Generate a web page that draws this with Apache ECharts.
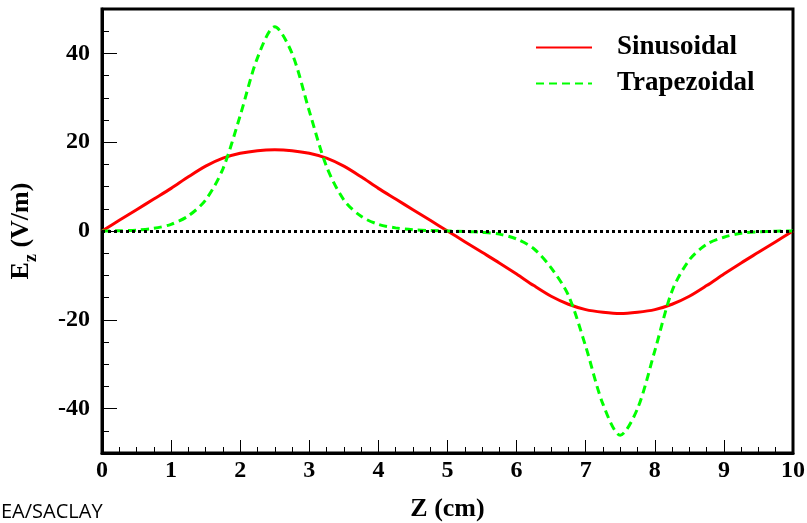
<!DOCTYPE html>
<html>
<head>
<meta charset="utf-8">
<script src="https://cdn.jsdelivr.net/npm/echarts@6/dist/echarts.min.js"></script>
<style>
  html, body { margin: 0; padding: 0; background: #fff; }
  #ez { width: 807px; height: 523px; }
</style>
</head>
<body>
<div id="ez"></div>
<script>
// positions along z (cm)
var zPos = [0, 0.25, 0.5, 0.75, 1, 1.25, 1.5, 1.75, 2, 2.25, 2.5, 2.75, 3, 3.25, 3.5, 3.75, 4, 4.25, 4.5, 4.75,
            5, 5.25, 5.5, 5.75, 6, 6.25, 6.5, 6.75, 7, 7.25, 7.5, 7.75, 8, 8.25, 8.5, 8.75, 9, 9.25, 9.5, 9.75, 10];
// Ez (V/m)
var sinusoidal = [0, 2.4, 4.8, 7.2, 9.6, 12.2, 14.6, 16.4, 17.5, 18.1, 18.3, 18.1, 17.5, 16.4, 14.6, 12.2, 9.6, 7.2, 4.8, 2.4,
                  0, -2.4, -4.8, -7.2, -9.7, -12.3, -14.7, -16.5, -17.7, -18.3, -18.6, -18.3, -17.7, -16.5, -14.7, -12.3, -9.7, -7.2, -4.8, -2.4, 0];
var trapezoidal = [0, 0.05, 0.2, 0.6, 1.5, 3.4, 7.0, 14.0, 26, 39, 46, 40, 27, 14.5, 7.0, 3.3, 1.5, 0.7, 0.3, 0.1,
                   0, -0.1, -0.3, -0.7, -1.8, -4.0, -8.3, -14.5, -26, -39, -46, -40, -27, -13.5, -6.5, -3.0, -1.4, -0.5, -0.2, -0.05, 0];
var yMajor = [-40, -20, 0, 20, 40];
var yMinor = [-50, -45, -35, -30, -25, -15, -10, -5, 5, 10, 15, 25, 30, 35, 45, 50];

function pairs(ys) {
  return zPos.map(function (z, i) { return [z, ys[i]]; });
}

var serif = '"Liberation Serif", "DejaVu Serif", serif';
var chart = echarts.init(document.getElementById('ez'));

chart.setOption({
  animation: false,
  grid: {
    left: 102, right: 14, top: 9, bottom: 70,
    outerBoundsMode: 'none',
    show: true, borderWidth: 3, borderColor: '#000'
  },
  legend: {
    orient: 'vertical',
    left: 530, top: 29,
    itemWidth: 56, itemHeight: 14, itemGap: 9,
    itemStyle: { opacity: 0 },
    textStyle: {
      fontFamily: serif, fontWeight: 'bold', fontSize: 27, color: '#000',
      padding: [0, 0, 0, 20]
    },
    data: ['Sinusoidal', 'Trapezoidal']
  },
  xAxis: {
    type: 'value', min: 0, max: 10, interval: 1,
    name: 'Z (cm)', nameLocation: 'middle', nameGap: 43,
    nameTextStyle: { fontFamily: serif, fontWeight: 'bold', fontSize: 26, color: '#000' },
    axisLine: { onZero: false, lineStyle: { color: '#000', width: 3 } },
    axisTick: { inside: true, length: 13, lineStyle: { color: '#000', width: 1 } },
    minorTick: { show: true, splitNumber: 4, length: 6, lineStyle: { color: '#000', width: 1 } },
    axisLabel: { fontFamily: serif, fontWeight: 'bold', fontSize: 24, color: '#000', margin: 6 },
    splitLine: { show: false }
  },
  yAxis: [{
    type: 'value', min: -50, max: 50,
    name: '{b|E}{s|z}{b| (V/m)}', nameLocation: 'middle', nameGap: 62, nameRotate: 90,
    nameTextStyle: {
      rich: {
        b: { fontFamily: serif, fontWeight: 'bold', fontSize: 26, color: '#000', lineHeight: 32, verticalAlign: 'top' },
        s: { fontFamily: serif, fontWeight: 'bold', fontSize: 18, color: '#000', lineHeight: 32, verticalAlign: 'bottom' }
      }
    },
    axisLine: { onZero: false, lineStyle: { color: '#000', width: 3 } },
    axisTick: { inside: true, length: 15, customValues: yMajor, lineStyle: { color: '#000', width: 1 } },
    axisLabel: { customValues: yMajor, fontFamily: serif, fontWeight: 'bold', fontSize: 24, color: '#000', margin: 12 },
    splitLine: { show: false }
  }, {
    type: 'value', min: -50, max: 50, position: 'left',
    axisLine: { show: false },
    axisTick: { inside: true, length: 7, customValues: yMinor, lineStyle: { color: '#000', width: 1 } },
    axisLabel: { show: false },
    splitLine: { show: false }
  }],
  graphic: [{
    type: 'text', left: 1, top: 502,
    style: { text: 'EA/SACLAY', font: '20px "Open Sans", sans-serif', fill: '#000' }
  }],
  series: [{
    name: 'Sinusoidal', type: 'line', smooth: 0.3, symbol: 'none',
    lineStyle: { color: '#ff0000', width: 3 },
    itemStyle: { color: '#ff0000' },
    data: pairs(sinusoidal),
    z: 3,
    markLine: {
      silent: true, symbol: 'none', label: { show: false },
      lineStyle: { color: '#000', width: 3, type: [3, 3] },
      data: [{ yAxis: 0 }]
    }
  }, {
    name: 'Trapezoidal', type: 'line', smooth: 0.3, symbol: 'none',
    lineStyle: { color: '#00ff00', width: 3, type: [8, 5] },
    itemStyle: { color: '#00ff00' },
    data: pairs(trapezoidal),
    z: 4
  }]
});
</script>
</body>
</html>
